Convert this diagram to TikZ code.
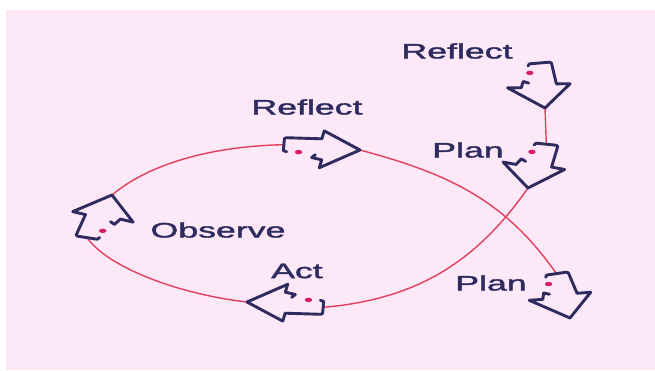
\documentclass[tikz,border=0pt]{standalone}
\usepackage{fontspec}
\setmainfont{Liberation Sans}
\newfontfamily\stagefont{Liberation Sans}[FakeBold=1.4]
\usepackage{graphicx}
\usepackage{xcolor}
\usetikzlibrary{backgrounds}
\definecolor{bgpink}{HTML}{FDE8F8}
\definecolor{navy}{HTML}{2E2B5F}
\definecolor{loopred}{HTML}{E2405C}
\definecolor{dotmag}{HTML}{D81B6A}

\tikzset{
  loopline/.style={draw=loopred, line width=1.4pt},
  arrowline/.style={draw=navy, line width=2.9pt, line join=round, line cap=round},
  stage/.style={text=navy, font=\stagefont\fontsize{21}{25}\selectfont, inner sep=0pt},
  cyclearrow/.pic={
    \begin{scope}[xscale=1.7, rotate=#1]
      \draw[arrowline] (-43,4) -- (-45,3) -- (-45,-9) -- (-44,-10) -- (-23,-10) -- (-22,-18) -- (0,0)
        -- (-23,19) -- (-22,11) -- (-28,9) -- (-26,6);
      \fill[dotmag] (-36,4) circle (2.2pt);
      \coordinate (-tip) at (0,0);
      \coordinate (-tail) at (-45,-3);
    \end{scope}
  }
}
\newcommand{\wide}[1]{\scalebox{1.7}[1]{#1}}

\begin{document}
\begin{tikzpicture}[x=1pt, y=-1pt]
\useasboundingbox (0,0) rectangle (655,370);

% labels
\node[stage] (reflecttop) at (457,51) {\wide{Reflect}};
\node[stage] (reflectmid) at (307,107) {\wide{Reflect}};
\node[stage] (planmid) at (468,150) {\wide{Plan}};
\node[stage] (observe) at (218,230) {\wide{Observe}};
\node[stage] (act) at (297,271) {\wide{Act}};
\node[stage] (planlow) at (491,283) {\wide{Plan}};

% arrows
\pic (rtop) at (545,108) {cyclearrow=-82};
\pic (pmid) at (528,188) {cyclearrow=-100};
\pic (plow) at (570,318) {cyclearrow=-76};
\pic (actarr) at (247,302) {cyclearrow=-183};
\pic (obsarr) at (112,195) {cyclearrow=75};
\pic (rmid) at (360,150) {cyclearrow=-3};

% loop
\begin{scope}[on background layer]
  \fill[white] (0,0) rectangle (655,370);
  \fill[bgpink] (6,10) rectangle (655,370);
  \draw[loopline] (rtop-tip) -- (pmid-tail);
  \draw[loopline] (pmid-tip) to[out=235, in=5] (actarr-tail);
  \draw[loopline] (actarr-tip) .. controls +(-77,-9) and +(17,26) .. (obsarr-tail);
  \draw[loopline] (obsarr-tip) .. controls +(32,-27) and +(-83,2) .. (rmid-tail);
  \draw[loopline] (rmid-tip) to[out=-15, in=125] (plow-tail);
\end{scope}
\end{tikzpicture}
\end{document}
